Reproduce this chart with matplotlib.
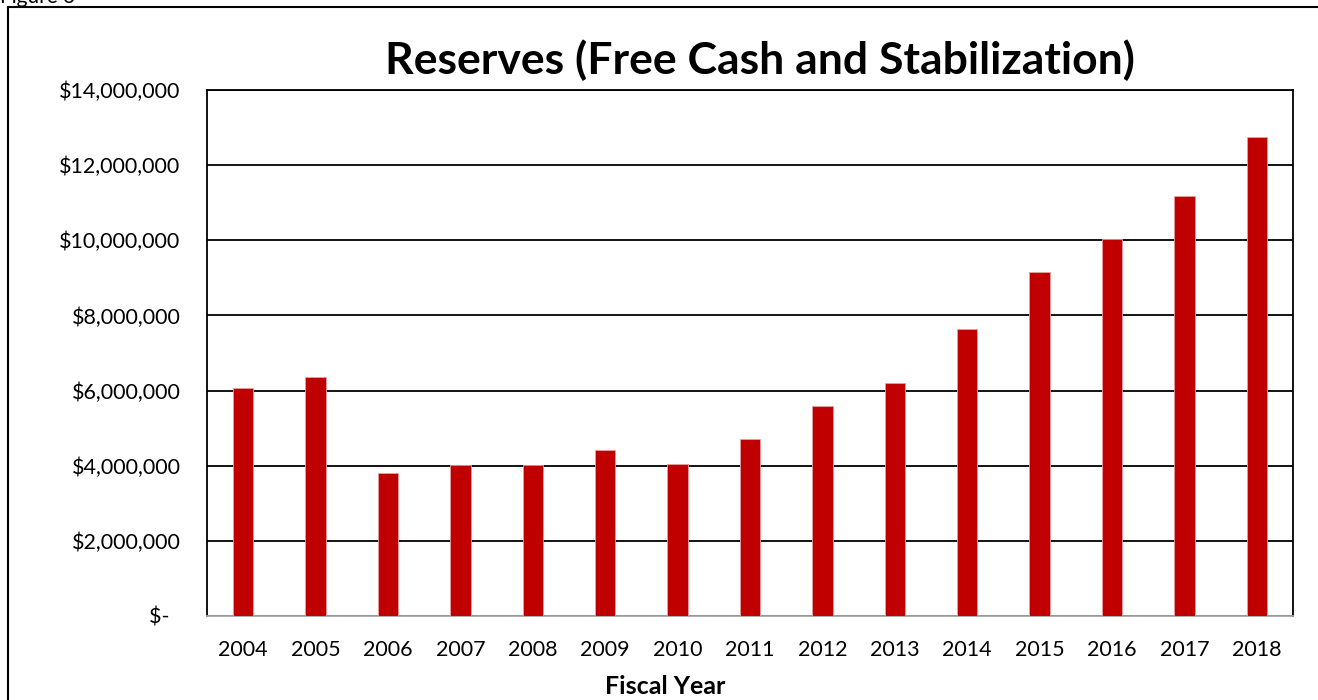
import numpy as np
import matplotlib.pyplot as plt
from matplotlib.lines import Line2D

plt.rcParams['font.family'] = ['Lato', 'DejaVu Sans']

years = ['2004', '2005', '2006', '2007', '2008', '2009', '2010', '2011',
         '2012', '2013', '2014', '2015', '2016', '2017', '2018']
reserves = [6070000, 6370000, 3810000, 4010000, 4010000, 4410000, 4040000, 4710000,
            5600000, 6190000, 7650000, 9150000, 10040000, 11180000, 12760000]
y_ticks = [0, 2000000, 4000000, 6000000, 8000000, 10000000, 12000000, 14000000]
y_labels = ['$-  ', '$2,000,000', '$4,000,000', '$6,000,000', '$8,000,000',
            '$10,000,000', '$12,000,000', '$14,000,000']

fig = plt.figure(figsize=(13.18, 7.0), dpi=100)
ax = fig.add_axes([207 / 1318, 84 / 700, 1086 / 1318, 526 / 700])

x = np.arange(len(years))
ax.bar(x, reserves, width=0.28, color='#C00000', edgecolor='#E8A0A0', linewidth=0.6, zorder=3)

ax.set_xlim(-0.5, len(years) - 0.5)
ax.set_ylim(0, 14000000)
ax.set_yticks(y_ticks)
ax.set_yticklabels(y_labels)
ax.set_xticks(x)
ax.set_xticklabels(years)
ax.tick_params(axis='both', length=0, labelsize=15.5)
ax.tick_params(axis='y', pad=19)
ax.tick_params(axis='x', pad=17)

ax.grid(axis='y', color='black', linewidth=1.3, zorder=1)
for side in ['left', 'top', 'right']:
    ax.spines[side].set_color('black')
    ax.spines[side].set_linewidth(1.3)
ax.spines['bottom'].set_color('#a6a6a6')
ax.spines['bottom'].set_linewidth(1.3)

fig.text(665 / 1318, 1 - 687 / 700, 'Fiscal Year', ha='center', va='center',
         fontsize=18, fontweight='bold')
fig.text(760 / 1318, 1 - 60 / 700, 'Reserves (Free Cash and Stabilization)',
         ha='center', va='center', fontsize=32, fontweight='bold')

# outer frame and caption
fig.add_artist(Line2D([8 / 1318, 8 / 1318], [0, 1 - 7 / 700], color='black', linewidth=1.5))
fig.add_artist(Line2D([8 / 1318, 1], [1 - 7 / 700, 1 - 7 / 700], color='black', linewidth=1.5))
fig.text(0.0, 1 - 3 / 700, 'Figure 3', ha='left', va='baseline', fontsize=15)

fig.savefig('out.png', dpi=100)
